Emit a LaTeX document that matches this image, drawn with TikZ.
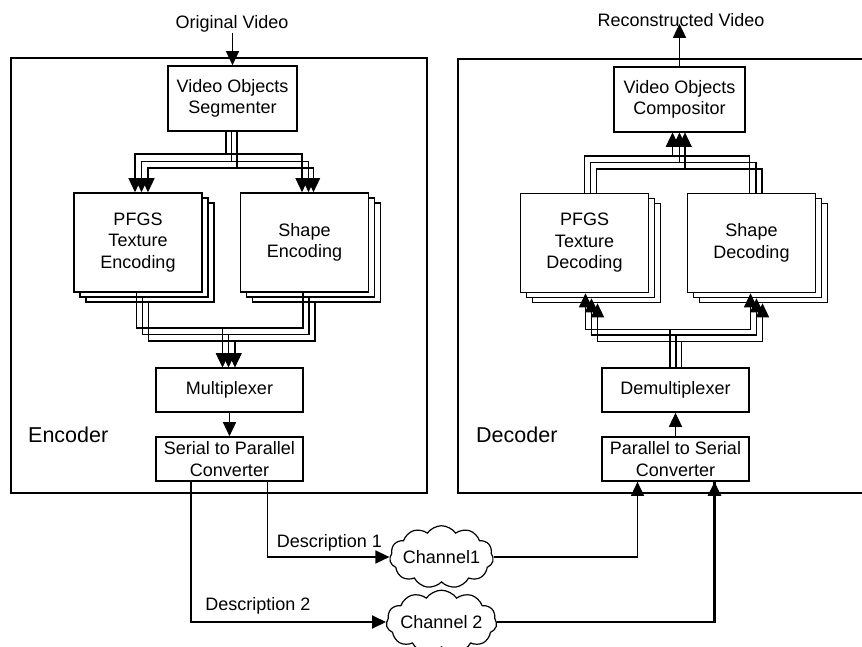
\documentclass[tikz,border=0pt]{standalone}
\usepackage{fontspec}
\setmainfont{Liberation Sans}
\usetikzlibrary{arrows.meta,shapes.symbols,calc}
\begin{document}
\begin{tikzpicture}[x=1pt,y=-1pt,
  txt/.style={font=\fontsize{18}{21.5}\selectfont, align=center, inner sep=0pt},
  blk/.style={draw, line width=1.6pt, fill=white, txt},
  stk/.style={blk, minimum width=128pt, minimum height=99pt},
  lab/.style={font=\fontsize{21.5}{25}\selectfont, inner sep=0pt},
  wire/.style={line width=1.4pt},
  arr/.style={wire, -{Triangle[length=14pt,width=13pt]}},
  chan/.style={cloud, draw, line width=1.2pt, cloud puffs=11, cloud puff arc=110,
    cloud ignores aspect, txt, inner xsep=-3pt, inner ysep=11pt, fill=white}
]
\useasboundingbox (0,0) rectangle (862,647);

% frames
\node[draw, line width=1.6pt, minimum width=416pt, minimum height=435pt, inner sep=0pt] (enc) at (219,275.5) {};
\draw[line width=2pt] (862,59) -- (458,59) -- (458,493) -- (862,493);
\node[lab, anchor=west] (enclab) at (28,435) {Encoder};
\node[lab, anchor=west] (declab) at (476,435) {Decoder};

% encoder blocks
\node[blk, minimum width=129pt, minimum height=65pt] (vos) at (232.5,98.5) {Video Objects\\Segmenter};
\node[stk] (pe3) at (150,252.5) {};
\node[stk] (pe2) at (144,247.5) {};
\node[stk] (pe) at (138,242.5) {PFGS\\Texture\\Encoding};
\node[stk] (se3) at (316.5,252.5) {};
\node[stk] (se2) at (310.5,247.5) {};
\node[stk] (se) at (304.5,242.5) {Shape\\Encoding};
\node[blk, minimum width=147pt, minimum height=44pt] (mux) at (229.5,390) {Multiplexer};
\node[blk, minimum width=147pt, minimum height=44pt] (s2p) at (229.5,459) {Serial to Parallel\\Converter};

% decoder blocks
\node[blk, minimum width=131pt, minimum height=65pt] (voc) at (679.5,99.5) {Video Objects\\Compositor};
\node[stk] (pd3) at (596.5,253) {};
\node[stk] (pd2) at (590.5,248) {};
\node[stk] (pd) at (584.5,243) {PFGS\\Texture\\Decoding};
\node[stk] (sd3) at (763.5,253) {};
\node[stk] (sd2) at (757.5,248) {};
\node[stk] (sd) at (751.5,243) {Shape\\Decoding};
\node[blk, minimum width=147pt, minimum height=44pt] (demux) at (675.5,390) {Demultiplexer};
\node[blk, minimum width=147pt, minimum height=44pt] (p2s) at (675.5,459) {Parallel to Serial\\Converter};

% video in / out
\node[txt] (ov) at (232,24) {Original Video};
\draw[arr] (vos.north |- ov.south) -- (vos.north);
\node[txt] (rv) at (681,20) {Reconstructed Video};
\draw[arr] (voc.north) -- ([yshift=3]voc.north |- rv.south);

% encoder top bundle
\coordinate (et1) at (0,154);
\coordinate (et2) at (0,161.5);
\coordinate (et3) at (0,168);
\draw[arr] ([xshift=-6.5]vos.south) -- ([xshift=-6.5]vos.south |- et1) -| ([xshift=-3]pe.north);
\draw[arr] ([xshift=-6.5]vos.south) -- ([xshift=-6.5]vos.south |- et1) -| ([xshift=-2.5]se.north);
\draw[arr] ([xshift=-1]vos.south) -- ([xshift=-1]vos.south |- et2) -| ([xshift=3.5]pe.north);
\draw[arr] ([xshift=-1]vos.south) -- ([xshift=-1]vos.south |- et2) -| ([xshift=4]se.north);
\draw[arr] ([xshift=4.5]vos.south) -- ([xshift=4.5]vos.south |- et3) -| ([xshift=10]pe.north);
\draw[arr] ([xshift=4.5]vos.south) -- ([xshift=4.5]vos.south |- et3) -| ([xshift=9]se.north);

% encoder bottom bundle
\coordinate (eb1) at (0,328);
\coordinate (eb2) at (0,334.5);
\coordinate (eb3) at (0,341);
\draw[arr] ([xshift=-1.5]pe.south) -- ([xshift=-1.5]pe.south |- eb1) -| ([xshift=-7]mux.north);
\draw[arr] ([xshift=-1.5]se.south) -- ([xshift=-1.5]se.south |- eb1) -| ([xshift=-7]mux.north);
\draw[arr] ([xshift=-1.5]pe2.south) -- ([xshift=-1.5]pe2.south |- eb2) -| ([xshift=-1]mux.north);
\draw[arr] ([xshift=-1.5]se2.south) -- ([xshift=-1.5]se2.south |- eb2) -| ([xshift=-1]mux.north);
\draw[arr] ([xshift=-1.5]pe3.south) -- ([xshift=-1.5]pe3.south |- eb3) -| ([xshift=5.5]mux.north);
\draw[arr] ([xshift=-1.5]se3.south) -- ([xshift=-1.5]se3.south |- eb3) -| ([xshift=5.5]mux.north);
\draw[arr] (mux.south) -- (s2p.north);

% decoder top bundle
\coordinate (dt1) at (0,156);
\coordinate (dt2) at (0,162.5);
\coordinate (dt3) at (0,169);
\draw[arr] (pd.north) -- (pd.north |- dt1) -| ([xshift=-7]voc.south);
\draw[arr] ([xshift=-2]sd.north) -- ([xshift=-2]sd.north |- dt1) -| ([xshift=-7]voc.south);
\draw[arr] ([xshift=6]pd.north) -- ([xshift=6]pd.north |- dt2) -| ([xshift=0]voc.south);
\draw[arr] ([xshift=4.5]sd.north) -- ([xshift=4.5]sd.north |- dt2) -| ([xshift=0]voc.south);
\draw[arr] ([xshift=12]pd.north) -- ([xshift=12]pd.north |- dt3) -| ([xshift=5.5]voc.south);
\draw[arr] ([xshift=10.5]sd.north) -- ([xshift=10.5]sd.north |- dt3) -| ([xshift=5.5]voc.south);

% decoder bottom bundle
\coordinate (db1) at (0,329.5);
\coordinate (db2) at (0,335);
\coordinate (db3) at (0,341.5);
\draw[arr] ([xshift=-5.5]demux.north) -- ([xshift=-5.5]demux.north |- db1) -| ([xshift=1]pd.south);
\draw[arr] ([xshift=-5.5]demux.north) -- ([xshift=-5.5]demux.north |- db1) -| ([xshift=-1]sd.south);
\draw[arr] ([xshift=0.5]demux.north) -- ([xshift=0.5]demux.north |- db2) -| ([xshift=1]pd2.south);
\draw[arr] ([xshift=0.5]demux.north) -- ([xshift=0.5]demux.north |- db2) -| ([xshift=-1]sd2.south);
\draw[arr] ([xshift=6]demux.north) -- ([xshift=6]demux.north |- db3) -| ([xshift=1]pd3.south);
\draw[arr] ([xshift=6]demux.north) -- ([xshift=6]demux.north |- db3) -| ([xshift=-1]sd3.south);
\draw[arr] (p2s.north) -- (demux.south);

% channels
\node[chan] (ch1) at (441.5,557) {Channel1};
\node[chan] (ch2) at (441.5,622) {Channel 2};
\draw[arr] ([xshift=38]s2p.south) |- (ch1.west);
\node[txt] (d1) at (329.5,543) {Description 1};
\draw[arr, line width=2pt] ([xshift=-39]s2p.south) |- (ch2.west);
\node[txt] (d2) at (258,606) {Description 2};
\draw[wire] (ch1.east) -| ([xshift=-38]p2s.south);
\draw[arr] ([xshift=-38]p2s.south |- ch1.east) -- ([xshift=-38]p2s.south);
\draw[wire, line width=2.2pt] (ch2.east) -| ([xshift=39]p2s.south);
\draw[arr, line width=2.2pt] ([xshift=39]p2s.south |- ch2.east) -- ([xshift=39]p2s.south);
\end{tikzpicture}
\end{document}
